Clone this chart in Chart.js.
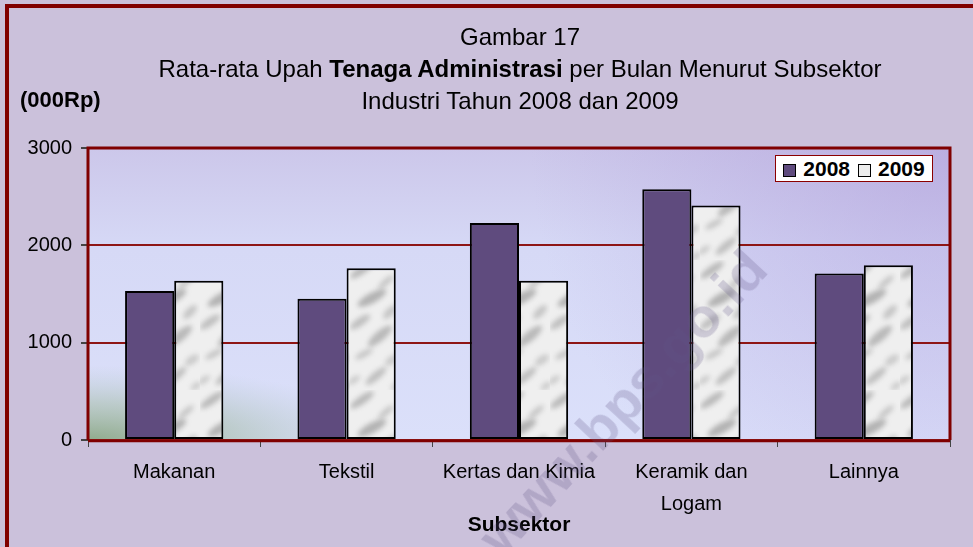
<!DOCTYPE html>
<html>
<head>
<meta charset="utf-8">
<script src="https://cdn.jsdelivr.net/npm/chart.js@4.4.1/dist/chart.umd.min.js"></script>
<style>
  html, body { margin: 0; padding: 0; }
  body { width: 973px; height: 547px; overflow: hidden; background: #cbc1db; font-family: Arial, "Liberation Sans", sans-serif; }
  .wrap { position: relative; width: 973px; height: 547px; }
  .frame { position: absolute; left: 5px; top: 4px; width: 1000px; height: 600px; border-left: 4px solid #800000; border-top: 4px solid #800000; box-sizing: border-box; }
  #chart { position: absolute; left: 0; top: 0; }
  .title { position: absolute; left: 60px; top: 21px; width: 920px; text-align: center; font-size: 24px; line-height: 32px; color: #000; }
  .unit { position: absolute; left: 20px; top: 86px; font-size: 22px; font-weight: bold; line-height: 28px; }
  .legend { position: absolute; left: 775px; top: 155px; width: 158px; height: 27px; box-sizing: border-box; background: #fff; border: 1.5px solid #8b0000; display: flex; align-items: center; justify-content: center; gap: 8px; font-size: 21px; font-weight: bold; }
  .legend span.sw { display: inline-block; width: 11px; height: 11px; border: 1px solid #000; margin-right: 7px; vertical-align: -1px; }
  .watermark { position: absolute; left: 622px; top: 402px; transform: translate(-50%, -50%) rotate(-47deg); font-size: 56px; font-weight: bold; color: rgba(95, 85, 135, 0.24); white-space: nowrap; pointer-events: none; }
</style>
</head>
<body>
<div class="wrap">
  <div class="frame"></div>
  <canvas id="chart" width="973" height="547"></canvas>
  <div class="title">Gambar 17<br>Rata-rata Upah <b>Tenaga Administrasi</b> per Bulan Menurut Subsektor<br>Industri Tahun 2008 dan 2009</div>
  <div class="unit">(000Rp)</div>
  <div class="legend">
    <div><span class="sw" style="background:#5f4b7e"></span>2008</div>
    <div><span class="sw" style="background:#ececec"></span>2009</div>
  </div>
  <div class="watermark">www.bps.go.id</div>
</div>
<script>
// Rata-rata upah tenaga administrasi (000Rp), per subsektor
var categories = ['Makanan', 'Tekstil', 'Kertas dan Kimia', ['Keramik dan', 'Logam'], 'Lainnya'];
var values2008 = [1530, 1450, 2230, 2575, 1710];
var values2009 = [1635, 1765, 1635, 2410, 1795];
var yTicks = [0, 1000, 2000, 3000];

// Marble-like texture for the 2009 bars (fixed streaks, no randomness)
function marblePattern(ctx) {
  var c = document.createElement('canvas');
  c.width = 50; c.height = 130;
  var p = c.getContext('2d');
  p.fillStyle = '#efefef';
  p.fillRect(0, 0, c.width, c.height);
  p.filter = 'blur(2.5px)';
  // x, y, half-length, half-width, angle, alpha
  var streaks = [
    [12, 10, 14, 4, -0.6, 0.45], [36, 22, 10, 3, -0.7, 0.35], [22, 38, 16, 5, -0.5, 0.5],
    [40, 52, 9, 4, -0.8, 0.35], [10, 62, 12, 4, -0.6, 0.4], [30, 76, 15, 5, -0.7, 0.45],
    [14, 94, 10, 3, -0.5, 0.35], [42, 100, 8, 4, -0.6, 0.3], [26, 116, 13, 4, -0.7, 0.4],
    [4, 120, 7, 3, -0.6, 0.3], [46, 126, 6, 3, -0.6, 0.3]
  ];
  for (var i = 0; i < streaks.length; i++) {
    var s = streaks[i];
    p.save();
    p.translate(s[0], s[1]);
    p.rotate(s[4]);
    p.fillStyle = 'rgba(120,120,120,' + s[5] + ')';
    p.beginPath();
    p.ellipse(0, 0, s[2], s[3], 0, 0, Math.PI * 2);
    p.fill();
    p.restore();
  }
  return ctx.createPattern(c, 'repeat');
}

var plotBackground = {
  id: 'plotBackground',
  beforeDraw: function(chart) {
    var a = chart.chartArea, ctx = chart.ctx;
    ctx.save();
    var g = ctx.createLinearGradient(0, a.top, 0, a.bottom);
    g.addColorStop(0, '#ccc7ea');
    g.addColorStop(0.35, '#d6d9f6');
    g.addColorStop(1, '#dbe0fa');
    ctx.fillStyle = g;
    ctx.fillRect(a.left, a.top, a.right - a.left, a.bottom - a.top);
    // purple tint in the top right
    var r = ctx.createRadialGradient(a.right, a.top, 0, a.right, a.top, 420);
    r.addColorStop(0, 'rgba(170,150,215,0.5)');
    r.addColorStop(1, 'rgba(170,150,215,0)');
    ctx.fillStyle = r;
    ctx.fillRect(a.left, a.top, a.right - a.left, a.bottom - a.top);
    // greenish patch in the bottom left
    ctx.beginPath();
    ctx.rect(a.left, a.top, a.right - a.left, a.bottom - a.top);
    ctx.clip();
    ctx.translate(a.left, a.bottom);
    ctx.scale(4, 1);
    var gr = ctx.createRadialGradient(0, 0, 0, 0, 0, 75);
    gr.addColorStop(0, 'rgba(140,168,135,0.95)');
    gr.addColorStop(0.5, 'rgba(160,185,160,0.5)');
    gr.addColorStop(1, 'rgba(180,200,200,0)');
    ctx.fillStyle = gr;
    ctx.fillRect(0, -80, 80, 80);
    ctx.restore();
  },
  afterDatasetsDraw: function(chart) {
    var a = chart.chartArea, ctx = chart.ctx;
    ctx.save();
    ctx.strokeStyle = '#800000';
    ctx.lineWidth = 3;
    ctx.beginPath();
    ctx.moveTo(a.left, a.bottom);
    ctx.lineTo(a.left, a.top);
    ctx.lineTo(a.right, a.top);
    ctx.lineTo(a.right, a.bottom);
    ctx.stroke();
    ctx.lineWidth = 2.5;
    ctx.beginPath();
    ctx.moveTo(a.left, a.bottom + 1);
    ctx.lineTo(a.right, a.bottom + 1);
    ctx.stroke();
    ctx.restore();
  }
};

var canvas = document.getElementById('chart');
var ctx = canvas.getContext('2d');

new Chart(ctx, {
  type: 'bar',
  data: {
    labels: categories,
    datasets: [{
      label: '2008',
      data: values2008,
      backgroundColor: '#5f4b7e',
      borderColor: '#000000',
      borderWidth: 2,
      borderSkipped: false
    }, {
      label: '2009',
      data: values2009,
      backgroundColor: marblePattern(ctx),
      borderColor: '#000000',
      borderWidth: 2,
      borderSkipped: false
    }]
  },
  options: {
    responsive: false,
    animation: false,
    layout: { padding: { top: 148, right: 23, left: 0, bottom: 0 } },
    datasets: { bar: { categoryPercentage: 0.57, barPercentage: 1.0 } },
    plugins: {
      legend: { display: false },
      tooltip: { enabled: false },
      title: { display: false }
    },
    scales: {
      x: {
        grid: { display: true, drawOnChartArea: false, drawTicks: true, tickLength: 7, tickColor: '#444', offset: true },
        border: { display: false },
        ticks: {
          color: '#000',
          padding: 9,
          maxRotation: 0,
          autoSkip: false,
          font: { family: 'Arial, "Liberation Sans", sans-serif', size: 20, lineHeight: 1.6 }
        },
        title: {
          display: true,
          text: 'Subsektor',
          color: '#000',
          padding: { top: 0, bottom: 9 },
          font: { family: 'Arial, "Liberation Sans", sans-serif', size: 21, weight: 'bold' }
        },
        afterFit: function(scale) { scale.height = 107; }
      },
      y: {
        min: 0,
        max: 3000,
        afterBuildTicks: function(scale) {
          scale.ticks = yTicks.map(function(v) { return { value: v }; });
        },
        grid: { color: '#8e1515', lineWidth: 2, tickColor: '#444', tickLength: 7 },
        border: { display: false },
        ticks: {
          color: '#000',
          padding: 9,
          callback: function(value) { return String(value); },
          font: { family: 'Arial, "Liberation Sans", sans-serif', size: 20 }
        },
        afterFit: function(scale) { scale.width = 88; }
      }
    }
  },
  plugins: [plotBackground]
});
</script>
</body>
</html>
